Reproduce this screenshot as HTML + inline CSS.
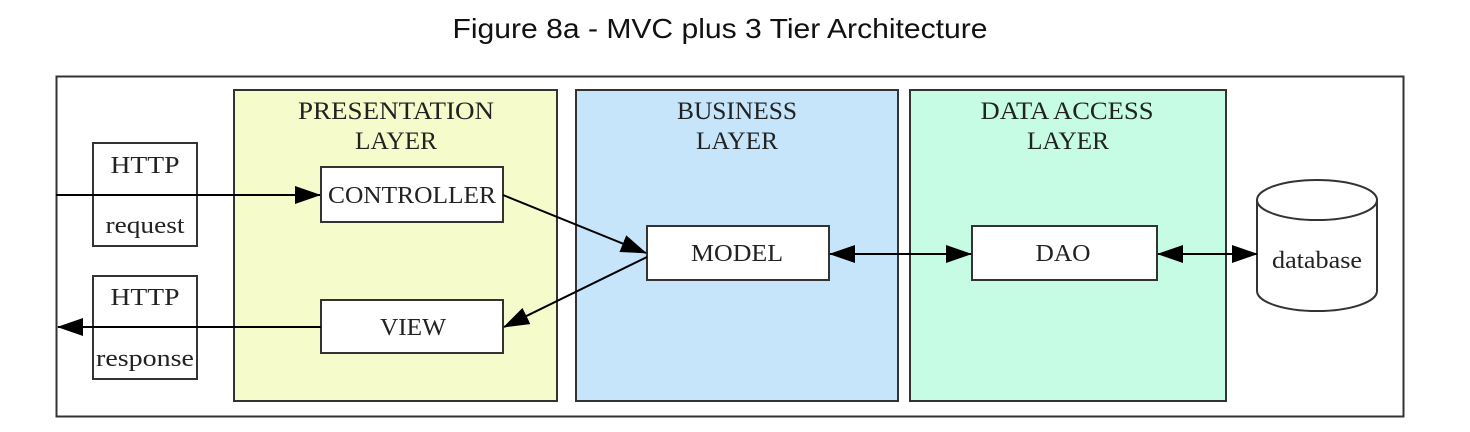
<!DOCTYPE html>
<html><head><style>
html,body{margin:0;padding:0;background:#fff;width:1470px;height:432px;overflow:hidden}
</style></head><body>
<svg width="1470" height="432" xmlns="http://www.w3.org/2000/svg" font-family="Liberation Serif, serif">
<defs>
<marker id="b" markerWidth="26" markerHeight="18" refX="25" refY="9" orient="auto-start-reverse" markerUnits="userSpaceOnUse" viewBox="0 0 26 18">
<path d="M0,0 L26,9 L0,18 z" fill="#000"/></marker>
</defs>
<text x="720" y="38" font-family="Liberation Sans, sans-serif" font-size="28" text-anchor="middle" fill="#111" textLength="535" lengthAdjust="spacingAndGlyphs">Figure 8a - MVC plus 3 Tier Architecture</text>
<rect x="56.5" y="76.5" width="1347" height="340" fill="#fff" stroke="#333" stroke-width="2"/>
<rect x="234" y="90" width="323" height="311" fill="#f5fbcb" stroke="#333" stroke-width="2"/>
<rect x="576" y="90" width="322" height="311" fill="#c6e5fa" stroke="#333" stroke-width="2"/>
<rect x="910" y="90" width="316" height="311" fill="#c5fce3" stroke="#333" stroke-width="2"/>
<g font-size="25" text-anchor="middle" fill="#222">
<text x="396" y="119" textLength="196" lengthAdjust="spacingAndGlyphs">PRESENTATION</text><text x="396" y="149" textLength="82" lengthAdjust="spacingAndGlyphs">LAYER</text>
<text x="737" y="119" textLength="120" lengthAdjust="spacingAndGlyphs">BUSINESS</text><text x="737" y="149" textLength="82" lengthAdjust="spacingAndGlyphs">LAYER</text>
<text x="1067" y="119" textLength="173" lengthAdjust="spacingAndGlyphs">DATA ACCESS</text><text x="1068" y="149" textLength="82" lengthAdjust="spacingAndGlyphs">LAYER</text>
</g>
<g fill="#fff" stroke="#333" stroke-width="2">
<rect x="93" y="143" width="104" height="103"/>
<rect x="93" y="276" width="104" height="103"/>
<rect x="321" y="167" width="182" height="55"/>
<rect x="321" y="300" width="182" height="53"/>
<rect x="647" y="226" width="182" height="54"/>
<rect x="972" y="226" width="185" height="54"/>
<path d="M1257,200 L1257,291 A60,20 0 0 0 1377,291 L1377,200 A60,20 0 0 0 1257,200 A60,20 0 0 0 1377,200"/>
</g>
<g stroke="#000" stroke-width="2" fill="none">
<line x1="56" y1="195" x2="320" y2="195" marker-end="url(#b)"/>
<line x1="321" y1="327" x2="58" y2="327" marker-end="url(#b)"/>
<line x1="503" y1="195" x2="646" y2="253" marker-end="url(#b)"/>
<line x1="647" y1="257" x2="504" y2="327" marker-end="url(#b)"/>
<line x1="830" y1="254" x2="971" y2="254" marker-start="url(#b)" marker-end="url(#b)"/>
<line x1="1158" y1="254" x2="1257" y2="254" marker-start="url(#b)" marker-end="url(#b)"/>
</g>
<g font-size="24" text-anchor="middle" fill="#222">
<text x="145" y="173" textLength="69" lengthAdjust="spacingAndGlyphs">HTTP</text>
<text x="145" y="233" textLength="79" lengthAdjust="spacingAndGlyphs">request</text>
<text x="145" y="305" textLength="69" lengthAdjust="spacingAndGlyphs">HTTP</text>
<text x="145" y="366" textLength="98" lengthAdjust="spacingAndGlyphs">response</text>
<text x="412" y="203" textLength="168" lengthAdjust="spacingAndGlyphs">CONTROLLER</text>
<text x="413" y="335" textLength="66" lengthAdjust="spacingAndGlyphs">VIEW</text>
<text x="737" y="261" textLength="92" lengthAdjust="spacingAndGlyphs">MODEL</text>
<text x="1063" y="261" textLength="55" lengthAdjust="spacingAndGlyphs">DAO</text>
<text x="1317" y="268" textLength="90" lengthAdjust="spacingAndGlyphs">database</text>
</g>
</svg>
</body></html>
